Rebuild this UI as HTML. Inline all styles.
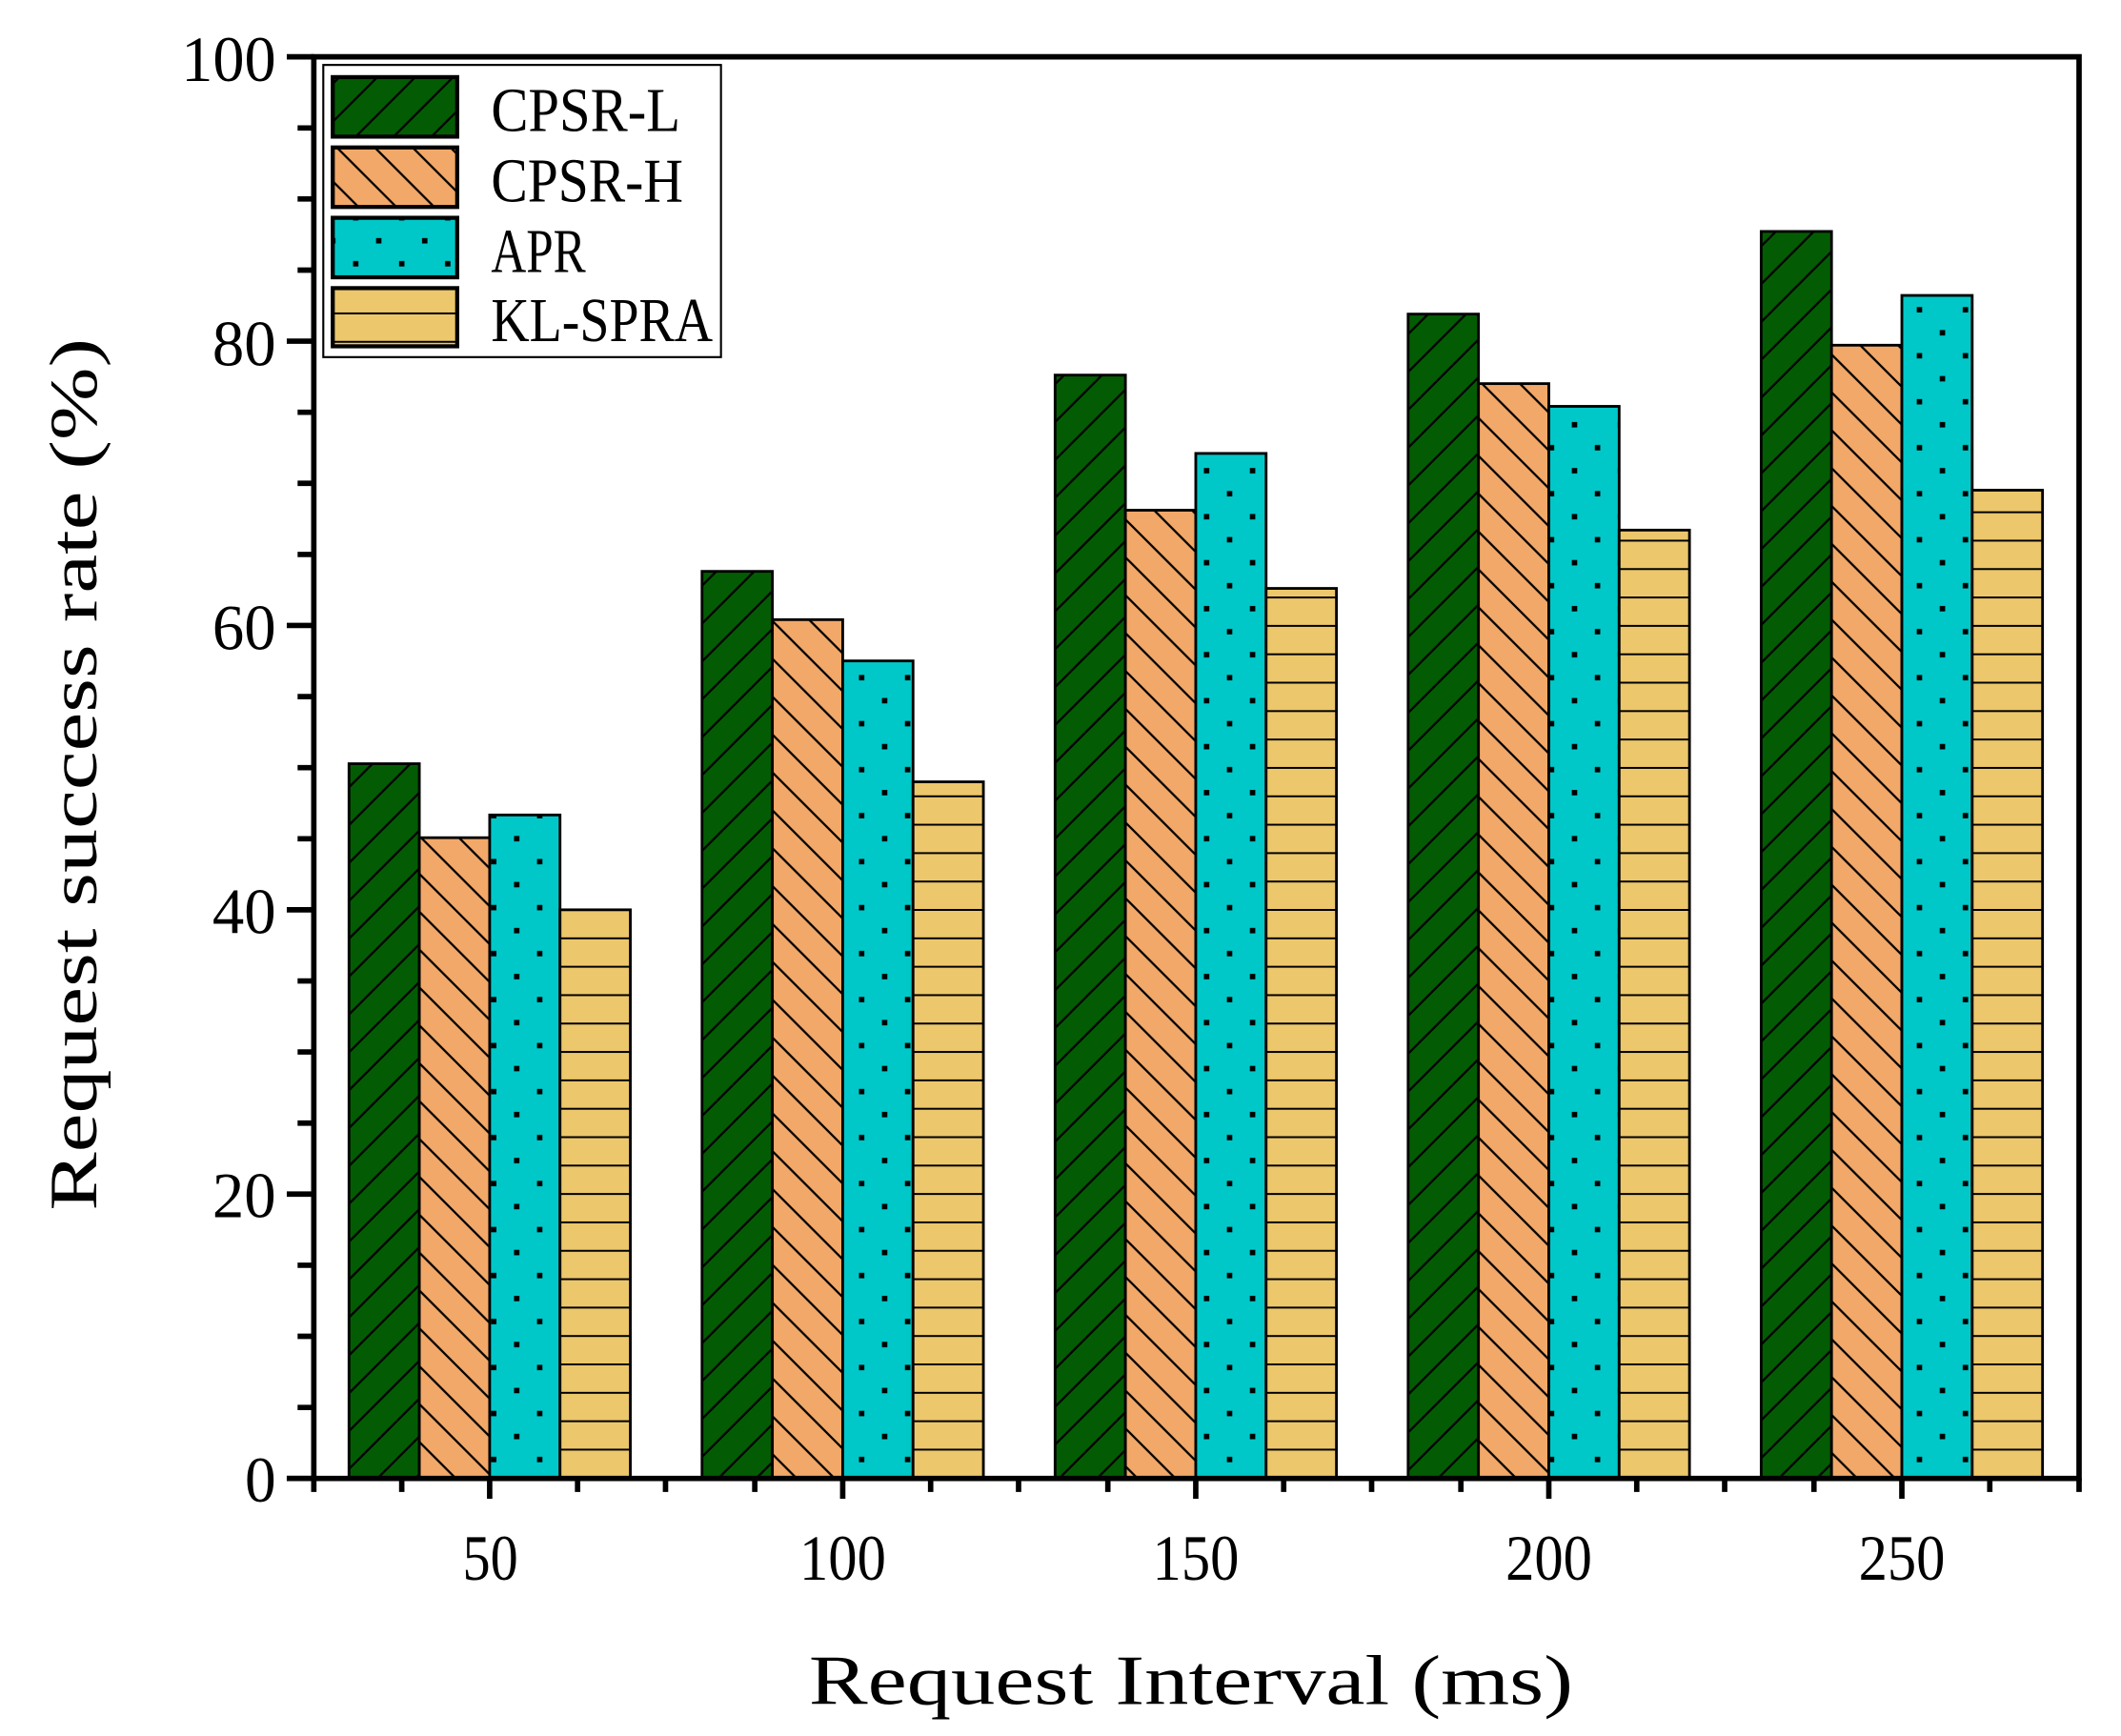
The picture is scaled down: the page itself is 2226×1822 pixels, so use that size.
<!DOCTYPE html>
<html><head><meta charset="utf-8"><style>html,body{margin:0;padding:0;background:#fff}svg{display:block}</style></head>
<body>
<svg width="2226" height="1822" viewBox="0 0 1568 1283.4" xmlns="http://www.w3.org/2000/svg">
<defs>
<pattern id="pg" patternUnits="userSpaceOnUse" width="28" height="28">
<rect width="28" height="28" fill="#035c03"/>
<path d="M-7,7 L7,-7 M0,28 L28,0 M21,35 L35,21" stroke="#000" stroke-width="1.6"/>
</pattern>
<pattern id="po" patternUnits="userSpaceOnUse" width="28" height="28">
<rect width="28" height="28" fill="#f2a868"/>
<path d="M-7,21 L7,35 M0,0 L28,28 M21,-7 L35,7" stroke="#000" stroke-width="1.6"/>
</pattern>
<pattern id="pc" patternUnits="userSpaceOnUse" width="34" height="34">
<rect width="34" height="34" fill="#00c8c8"/>
<rect x="6" y="6" width="4" height="4" fill="#000"/>
<rect x="23" y="23" width="4" height="4" fill="#000"/>
</pattern>
<pattern id="py" patternUnits="userSpaceOnUse" width="20" height="21">
<rect width="20" height="21" fill="#ecc76b"/>
<rect y="0" width="20" height="1.4" fill="#000"/>
</pattern>
</defs>
<g stroke="#000" stroke-width="2">
<rect x="258" y="564.6" width="52" height="528.4" fill="url(#pg)"/>
<rect x="310" y="619.3" width="52" height="473.7" fill="url(#po)"/>
<rect x="362" y="602.5" width="52" height="490.5" fill="url(#pc)"/>
<rect x="414" y="672.6" width="52" height="420.4" fill="url(#py)"/>
<rect x="519" y="422.4" width="52" height="670.6" fill="url(#pg)"/>
<rect x="571" y="458.1" width="52" height="634.9" fill="url(#po)"/>
<rect x="623" y="488.6" width="52" height="604.4" fill="url(#pc)"/>
<rect x="675" y="578" width="52" height="515" fill="url(#py)"/>
<rect x="780" y="277.3" width="52" height="815.7" fill="url(#pg)"/>
<rect x="832" y="377.2" width="52" height="715.8" fill="url(#po)"/>
<rect x="884" y="335.2" width="52" height="757.8" fill="url(#pc)"/>
<rect x="936" y="435" width="52" height="658" fill="url(#py)"/>
<rect x="1041" y="232.2" width="52" height="860.8" fill="url(#pg)"/>
<rect x="1093" y="283.6" width="52" height="809.4" fill="url(#po)"/>
<rect x="1145" y="300.4" width="52" height="792.6" fill="url(#pc)"/>
<rect x="1197" y="391.9" width="52" height="701.1" fill="url(#py)"/>
<rect x="1302" y="171.1" width="52" height="921.9" fill="url(#pg)"/>
<rect x="1354" y="255.2" width="52" height="837.8" fill="url(#po)"/>
<rect x="1406" y="218.4" width="52" height="874.6" fill="url(#pc)"/>
<rect x="1458" y="362.4" width="52" height="730.6" fill="url(#py)"/>
</g>
<g stroke="#000" stroke-width="4" fill="none">
<path d="M232,40 V1095 M230,42 H1539 M1537,40 V1095 M212,1093 H1539"/>
<path d="M212,42 H232 M212,252.2 H232 M212,462.4 H232 M212,672.6 H232 M212,882.8 H232 M212,1093 H232"/>
<path d="M220,94.6 H232 M220,147.1 H232 M220,199.7 H232 M220,304.8 H232 M220,357.3 H232 M220,409.9 H232 M220,515 H232 M220,567.5 H232 M220,620.1 H232 M220,725.2 H232 M220,777.7 H232 M220,830.3 H232 M220,935.4 H232 M220,987.9 H232 M220,1040.5 H232"/>
<path d="M362,1093 V1108 M623,1093 V1108 M884,1093 V1108 M1145,1093 V1108 M1406,1093 V1108"/>
<path d="M232,1093 V1103 M297,1093 V1103 M427,1093 V1103 M492,1093 V1103 M558,1093 V1103 M688,1093 V1103 M753,1093 V1103 M819,1093 V1103 M949,1093 V1103 M1014,1093 V1103 M1080,1093 V1103 M1210,1093 V1103 M1275,1093 V1103 M1341,1093 V1103 M1471,1093 V1103 M1537,1093 V1103"/>
</g>
<g font-family="Liberation Serif, serif" font-size="48" fill="#000">
<text x="134" y="60" textLength="70" lengthAdjust="spacingAndGlyphs">100</text>
<text x="157" y="270" textLength="47" lengthAdjust="spacingAndGlyphs">80</text>
<text x="157" y="480" textLength="47" lengthAdjust="spacingAndGlyphs">60</text>
<text x="157" y="690" textLength="47" lengthAdjust="spacingAndGlyphs">40</text>
<text x="157" y="900" textLength="47" lengthAdjust="spacingAndGlyphs">20</text>
<text x="181" y="1110" textLength="23" lengthAdjust="spacingAndGlyphs">0</text>
<text x="342" y="1168" textLength="41" lengthAdjust="spacingAndGlyphs">50</text>
<text x="591" y="1168" textLength="64" lengthAdjust="spacingAndGlyphs">100</text>
<text x="852" y="1168" textLength="64" lengthAdjust="spacingAndGlyphs">150</text>
<text x="1113" y="1168" textLength="64" lengthAdjust="spacingAndGlyphs">200</text>
<text x="1374" y="1168" textLength="64" lengthAdjust="spacingAndGlyphs">250</text>
<text x="598" y="1260" font-size="52" textLength="565" lengthAdjust="spacingAndGlyphs">Request Interval (ms)</text>
<text transform="translate(71,895) rotate(-90)" font-size="50" textLength="645" lengthAdjust="spacingAndGlyphs">Request success rate (%)</text>
</g>
<rect x="239" y="48" width="294" height="216" fill="#fff" stroke="#000" stroke-width="1.5"/>
<g stroke="#000" stroke-width="3">
<rect x="246" y="57" width="92" height="44" fill="url(#pg)"/>
<rect x="246" y="109" width="92" height="44" fill="url(#po)"/>
<rect x="246" y="161" width="92" height="44" fill="url(#pc)"/>
<rect x="246" y="213" width="92" height="43" fill="url(#py)"/>
</g>
<g font-family="Liberation Serif, serif" font-size="46" fill="#000">
<text x="363" y="97" textLength="140" lengthAdjust="spacingAndGlyphs">CPSR-L</text>
<text x="363" y="149" textLength="142" lengthAdjust="spacingAndGlyphs">CPSR-H</text>
<text x="363" y="201" textLength="70" lengthAdjust="spacingAndGlyphs">APR</text>
<text x="363" y="252" textLength="164" lengthAdjust="spacingAndGlyphs">KL-SPRA</text>
</g>
</svg>
</body></html>
